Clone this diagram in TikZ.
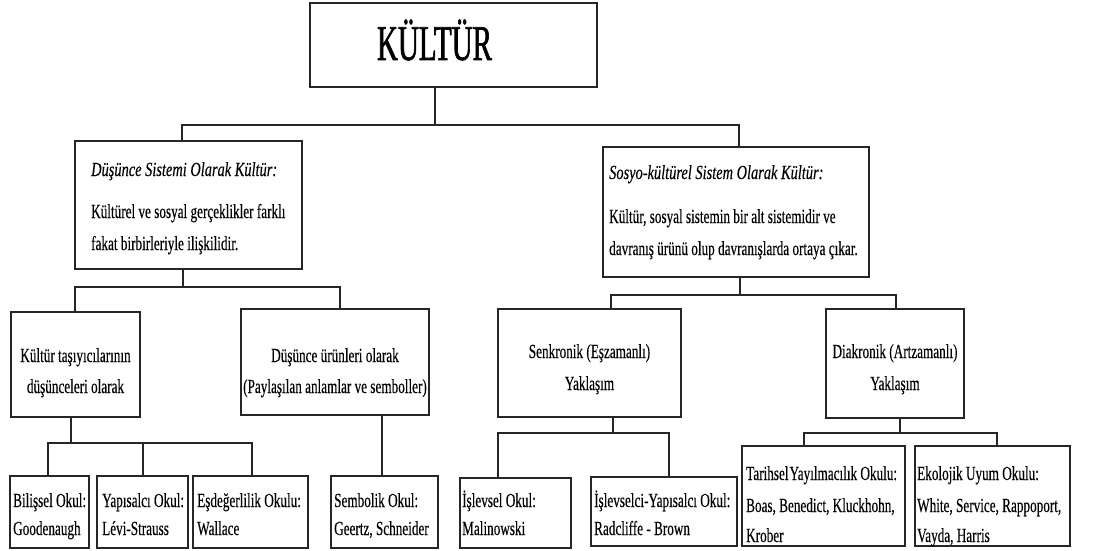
\documentclass[tikz,border=0pt]{standalone}
\usepackage{fontspec}
\setmainfont{Liberation Serif}[FakeStretch=0.66, FakeBold=0.25,
  ItalicFeatures={FakeStretch=0.72, FakeBold=0.25}]
\newfontfamily\headfont{Liberation Serif}[FakeStretch=0.58, FakeBold=1.2]

% a framed box given by its corners (x1,y1) and (x2,y2)
\newcommand\mkbox[5]{\node[bx, minimum width={(#4)-(#2)}, minimum height={(#5)-(#3)}]
  (#1) at ({((#2)+(#4))/2},{((#3)+(#5))/2}) {};}

\begin{document}
\begin{tikzpicture}[x=1pt,y=-1pt,
  bx/.style={draw=black!85, line width=1.1pt, inner sep=0pt, fill=white},
  wire/.style={draw=black!85, line width=1.1pt},
  tx/.style={inner sep=0pt, font=\fontsize{20}{24}\selectfont},
  tl/.style={tx, anchor=base west},
  tc/.style={tx, anchor=base},
  hd/.style={inner sep=0pt, anchor=base, font=\headfont\fontsize{50}{56}\selectfont}]
\useasboundingbox (0,0) rectangle (1117,551);

% boxes
\mkbox{k}{310}{3}{597}{87}
\mkbox{d1}{75}{141}{302}{269}
\mkbox{d2}{603}{147}{869}{277}
\mkbox{a}{11}{312}{140}{417}
\mkbox{b}{241}{309}{429}{415}
\mkbox{c}{498}{309}{681}{417}
\mkbox{e}{826}{309}{964}{418}
\mkbox{l1}{10}{476}{89}{548}
\mkbox{l2}{97}{476}{188}{548}
\mkbox{l3}{193}{476}{308}{548}
\mkbox{l4}{331}{476}{438}{548}
\mkbox{l5}{460}{478}{571}{548}
\mkbox{l6}{591}{477}{737}{546}
\mkbox{l7}{742}{446}{905}{546}
\mkbox{l8}{915}{446}{1070}{546}

% junction points of the connectors
\coordinate (j0) at (435,125);
\coordinate (j0l) at (182,125);
\coordinate (j0r) at (739,125);
\coordinate (j1) at (183,287);
\coordinate (j1l) at (75,287);
\coordinate (j1r) at (340,287);
\coordinate (j2) at (740,295);
\coordinate (j2l) at (611,295);
\coordinate (j2r) at (896,295);
\coordinate (j3) at (71,443);
\coordinate (j3l) at (48,443);
\coordinate (j3m) at (143,443);
\coordinate (j3r) at (252,443);
\coordinate (j4) at (382,415);
\coordinate (j5) at (613,433);
\coordinate (j5l) at (498,433);
\coordinate (j5r) at (669,433);
\coordinate (j6) at (900,433);
\coordinate (j6l) at (804,433);
\coordinate (j6r) at (997,433);

% connectors
\draw[wire] (k.south -| j0) -- (j0);
\draw[wire] (d1.north -| j0l) -- (j0l) -- (j0r) -- (d2.north -| j0r);
\draw[wire] (d1.south -| j1) -- (j1);
\draw[wire] (a.north -| j1l) -- (j1l) -- (j1r) -- (b.north -| j1r);
\draw[wire] (d2.south -| j2) -- (j2);
\draw[wire] (c.north -| j2l) -- (j2l) -- (j2r) -- (e.north -| j2r);
\draw[wire] (a.south -| j3) -- (j3);
\draw[wire] (l1.north -| j3l) -- (j3l) -- (j3r) -- (l3.north -| j3r);
\draw[wire] (j3m) -- (l2.north -| j3m);
\draw[wire] (b.south -| j4) -- (l4.north -| j4);
\draw[wire] (c.south -| j5) -- (j5);
\draw[wire] (l5.north -| j5l) -- (j5l) -- (j5r) -- (l6.north -| j5r);
\draw[wire] (e.south -| j6) -- (j6);
\draw[wire] (l7.north -| j6l) -- (j6l) -- (j6r) -- (l8.north -| j6r);

% texts
\node[hd] (kt) at (434.5,60) {KÜLTÜR};

\node[tl] (d1t1) at (91,176) {\itshape Düşünce Sistemi Olarak Kültür:};
\node[tl] (d1t2) at (91,218) {Kültürel ve sosyal gerçeklikler farklı};
\node[tl] (d1t3) at (91,250) {fakat birbirleriyle ilişkilidir.};

\node[tl] (d2t1) at (609,179) {\itshape Sosyo-kültürel Sistem Olarak Kültür:};
\node[tl] (d2t2) at (609,223) {Kültür, sosyal sistemin bir alt sistemidir ve};
\node[tl] (d2t3) at (609,255) {davranış ürünü olup davranışlarda ortaya çıkar.};

\node[tc] (at1) at (75.5,362) {Kültür taşıyıcılarının};
\node[tc] (at2) at (75.5,393) {düşünceleri olarak};
\node[tc] (bt1) at (335,362) {Düşünce ürünleri olarak};
\node[tc] (bt2) at (335,393) {(Paylaşılan anlamlar ve semboller)};
\node[tc] (ct1) at (589.5,358) {Senkronik (Eşzamanlı)};
\node[tc] (ct2) at (589.5,390) {Yaklaşım};
\node[tc] (et1) at (895,358) {Diakronik (Artzamanlı)};
\node[tc] (et2) at (895,390) {Yaklaşım};

\node[tl] (l1t1) at (13,507) {Bilişsel Okul:};
\node[tl] (l1t2) at (13,535) {Goodenaugh};
\node[tl] (l2t1) at (102,507) {Yapısalcı Okul:};
\node[tl] (l2t2) at (102,535) {Lévi-Strauss};
\node[tl] (l3t1) at (197,507) {Eşdeğerlilik Okulu:};
\node[tl] (l3t2) at (197,535) {Wallace};
\node[tl] (l4t1) at (334,507) {Sembolik Okul:};
\node[tl] (l4t2) at (334,535) {Geertz, Schneider};
\node[tl] (l5t1) at (462,507) {İşlevsel Okul:};
\node[tl] (l5t2) at (462,535) {Malinowski};
\node[tl] (l6t1) at (594,507) {İşlevselci-Yapısalcı Okul:};
\node[tl] (l6t2) at (594,535) {Radcliffe - Brown};
\node[tl] (l7t1) at (746,480) {Tarihsel\hspace{1pt}Yayılmacılık Okulu:};
\node[tl] (l7t2) at (746,512) {Boas, Benedict, Kluckhohn,};
\node[tl] (l7t3) at (746,542) {Krober};
\node[tl] (l8t1) at (917,480) {Ekolojik Uyum Okulu:};
\node[tl] (l8t2) at (917,512) {White, Service, Rappoport,};
\node[tl] (l8t3) at (917,542) {Vayda, Harris};
\end{tikzpicture}
\end{document}
